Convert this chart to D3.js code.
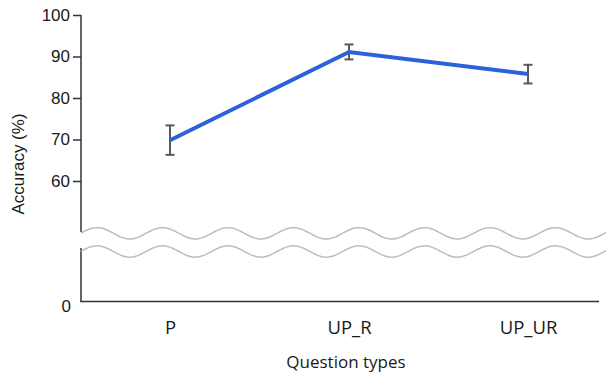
<!DOCTYPE html>
<html>
<head>
<meta charset="utf-8">
<script src="https://cdn.jsdelivr.net/npm/d3@7"></script>
<style>
  body { margin: 0; background: #fff; }
  svg { display: block; }
</style>
</head>
<body>
<svg id="chart"></svg>
<script>
const categories = ['P', 'UP_R', 'UP_UR']
const accuracy = [69.8, 91.1, 85.8]
const errLow = [66.3, 89.3, 83.5]
const errHigh = [73.4, 92.9, 88.0]
const upperTicks = [60, 70, 80, 90, 100]
const lowerTicks = [0]

const width = 606, height = 378
const axisX = 81, axisEnd = 599
const baseY = 301.5

const svg = d3.select('#chart')
  .attr('width', width)
  .attr('height', height)

// x scale
const xScale = d3.scalePoint()
  .domain(categories)
  .range([80.5, 617.5])
  .padding(0.5)

// upper part of the broken y axis
const yScale = d3.scaleLinear()
  .domain([60, 100])
  .range([181, 15])

// lower part, only 0 is shown
const yLow = d3.scaleLinear()
  .domain([0, 10])
  .range([baseY, 248])

const axisColor = '#333'
const textColor = '#1a1a1a'
const numFont = '"Liberation Sans", Arial, sans-serif'
const textFont = '"Open Sans", sans-serif'

// upper y axis
const yAxisTop = svg.append('g')
  .attr('transform', `translate(${axisX}, 0)`)
  .call(d3.axisLeft(yScale).tickValues(upperTicks).tickSize(8).tickSizeOuter(0).tickPadding(3))
yAxisTop.select('.domain').remove()
yAxisTop.append('line')
  .attr('x1', 0).attr('x2', 0)
  .attr('y1', yScale(100)).attr('y2', 232)
  .attr('stroke', axisColor).attr('stroke-width', 1.5)
yAxisTop.selectAll('.tick line').attr('stroke', axisColor).attr('stroke-width', 1.5)
yAxisTop.selectAll('.tick text')
  .attr('fill', textColor)
  .style('font-family', numFont)
  .style('font-size', '17px')

// lower y axis
const yAxisLow = svg.append('g')
  .attr('transform', `translate(${axisX}, 0)`)
  .call(d3.axisLeft(yLow).tickValues(lowerTicks).tickSize(0).tickPadding(10))
yAxisLow.select('.domain').remove()
yAxisLow.append('line')
  .attr('x1', 0).attr('x2', 0)
  .attr('y1', 248).attr('y2', baseY)
  .attr('stroke', axisColor).attr('stroke-width', 1.5)
yAxisLow.selectAll('.tick text')
  .attr('fill', textColor)
  .attr('dy', '0.6em')
  .style('font-family', numFont)
  .style('font-size', '17px')

// x axis
const xAxis = svg.append('g')
  .attr('transform', `translate(0, ${baseY})`)
  .call(d3.axisBottom(xScale).tickSize(0).tickPadding(19))
xAxis.select('.domain').remove()
xAxis.append('line')
  .attr('x1', axisX - 0.75).attr('x2', axisEnd)
  .attr('stroke', axisColor).attr('stroke-width', 1.5)
xAxis.selectAll('.tick text')
  .attr('fill', textColor)
  .style('font-family', textFont)
  .style('font-size', '18.5px')

// axis titles
svg.append('text')
  .attr('x', 346)
  .attr('y', 368)
  .attr('text-anchor', 'middle')
  .attr('fill', textColor)
  .style('font-family', textFont)
  .style('font-size', '17px')
  .text('Question types')

svg.append('text')
  .attr('transform', `translate(24, 164) rotate(-90)`)
  .attr('text-anchor', 'middle')
  .attr('fill', textColor)
  .style('font-family', numFont)
  .style('font-size', '17px')
  .text('Accuracy (%)')

// axis break waves
const waveLine = d3.line().curve(d3.curveBasis)
const waveXs = d3.range(axisX, width + 2, 2)
const wave = (c) => waveXs.map(x => [x, c - 5.7 * Math.cos(2 * Math.PI * (x - 97) / 65.5)])
;[233.3, 251.5].forEach(c => {
  svg.append('path')
    .attr('d', waveLine(wave(c)))
    .attr('fill', 'none')
    .attr('stroke', '#bdbdbd')
    .attr('stroke-width', 1.5)
})

// error bars
const capW = 9
const bars = svg.append('g')
  .attr('stroke', '#5a5a5a')
  .attr('stroke-width', 2)
categories.forEach((c, i) => {
  const x = xScale(c)
  bars.append('line')
    .attr('x1', x).attr('x2', x)
    .attr('y1', yScale(errLow[i])).attr('y2', yScale(errHigh[i]))
  bars.append('line')
    .attr('x1', x - capW / 2).attr('x2', x + capW / 2)
    .attr('y1', yScale(errLow[i])).attr('y2', yScale(errLow[i]))
  bars.append('line')
    .attr('x1', x - capW / 2).attr('x2', x + capW / 2)
    .attr('y1', yScale(errHigh[i])).attr('y2', yScale(errHigh[i]))
})

// mean line
svg.append('path')
  .datum(accuracy)
  .attr('fill', 'none')
  .attr('stroke', '#2c62d8')
  .attr('stroke-width', 4)
  .attr('d', d3.line()
    .x((d, i) => xScale(categories[i]))
    .y(d => yScale(d)))
</script>
</body>
</html>
